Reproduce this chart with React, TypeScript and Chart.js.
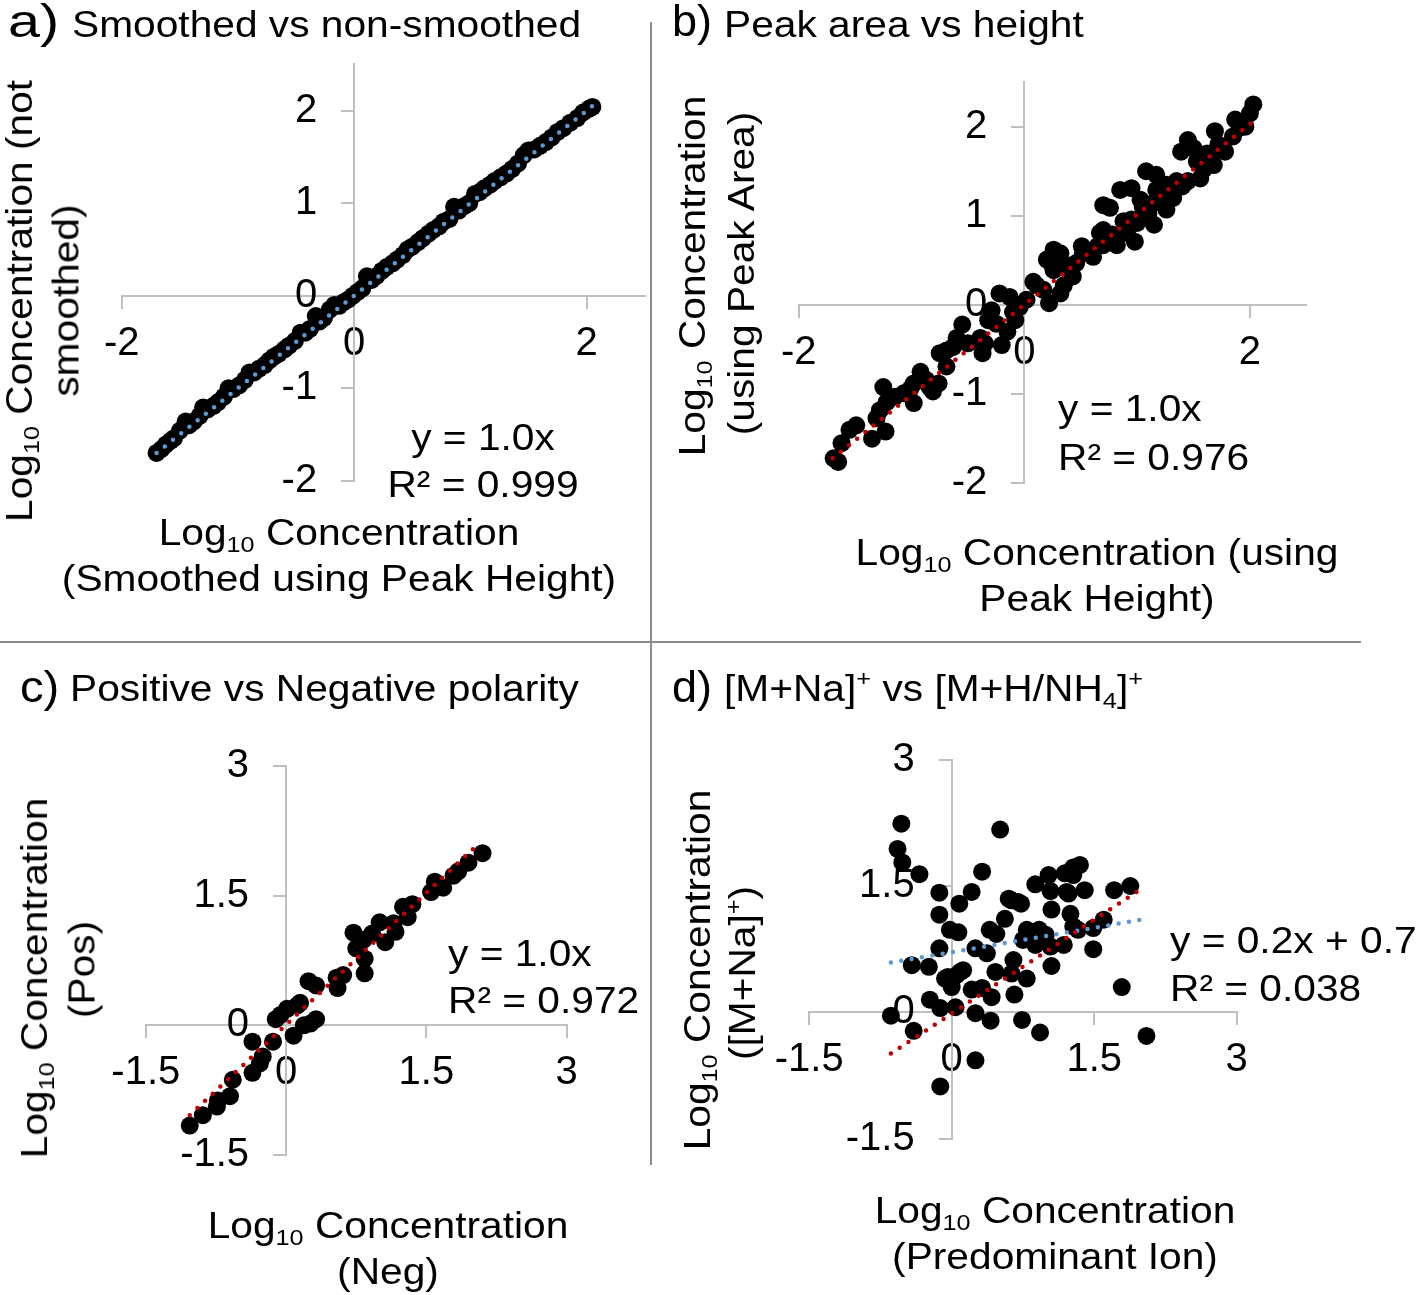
import React, { useEffect, useRef } from "react";
import { Chart, registerables, LinearScale } from "chart.js";

Chart.register(...registerables);

// A linear scale whose labels, when the axis is placed at a data value
// ({x: 0}), are moved off the axis line by tick length + padding.
class CrossLinearScale extends LinearScale {
  _computeLabelItems(chartArea: any) {
    const items = (super._computeLabelItems as any)(chartArea);
    if ((this as any).axis === "y") {
      const opts: any = (this as any).options;
      const shift = (opts.grid.tickLength || 0) + (opts.ticks.padding || 0);
      items.forEach((it: any) => {
        const t = it.options.translation;
        it.options.translation = [t[0] - shift, t[1]];
      });
    }
    return items;
  }
}
(CrossLinearScale as any).id = "crossLinear";
(CrossLinearScale as any).defaults = (LinearScale as any).defaults;
Chart.register(CrossLinearScale as any);

const W = 1418;
const H = 1295;
const FONT = "'Liberation Sans', Arial, Helvetica, sans-serif";
const AXIS_GRAY = "#bfbfbf";
const BLUE = "#5b9bd5";
const RED = "#c00000";

// ---------- Panel a: smoothed vs non-smoothed ----------
const A_X = [-1.70, -1.66, -1.62, -1.58, -1.55, -1.50, -1.45, -1.42, -1.38, -1.33, -1.30, -1.26, -1.21, -1.17, -1.12, -1.08, -1.04, -0.99, -0.94, -0.90, -0.86, -0.82, -0.77, -0.73, -0.69, -0.65, -0.60, -0.56, -0.51, -0.46, -0.42, -0.38, -0.33, -0.30, -0.26, -0.21, -0.17, -0.13, -0.09, -0.05, -0.01, 0.03, 0.07, 0.11, 0.15, 0.19, 0.24, 0.28, 0.33, 0.37, 0.42, 0.46, 0.50, 0.55, 0.59, 0.64, 0.68, 0.73, 0.77, 0.82, 0.86, 0.90, 0.95, 0.99, 1.04, 1.08, 1.12, 1.17, 1.21, 1.26, 1.31, 1.36, 1.41, 1.46, 1.50, 1.55, 1.60, 1.65, 1.70, 1.75, 1.80, 1.86, 1.92, 1.97, 2.02, 2.05];
const A_Y = [-1.70, -1.66, -1.61, -1.57, -1.54, -1.46, -1.36, -1.40, -1.36, -1.30, -1.21, -1.23, -1.19, -1.15, -1.09, -1.00, -1.01, -0.97, -0.91, -0.83, -0.83, -0.79, -0.75, -0.70, -0.66, -0.63, -0.58, -0.54, -0.49, -0.40, -0.40, -0.36, -0.22, -0.28, -0.24, -0.15, -0.10, -0.11, -0.07, -0.04, 0.00, 0.04, 0.08, 0.21, 0.17, 0.21, 0.27, 0.31, 0.35, 0.39, 0.44, 0.50, 0.53, 0.58, 0.62, 0.67, 0.71, 0.75, 0.80, 0.83, 0.96, 0.92, 0.97, 1.00, 1.10, 1.12, 1.16, 1.20, 1.24, 1.28, 1.32, 1.37, 1.43, 1.52, 1.57, 1.58, 1.62, 1.66, 1.71, 1.77, 1.81, 1.87, 1.92, 1.98, 2.02, 2.04];
const A_TREND_X = [-1.70, 2.05];
const A_TREND_Y = [-1.70, 2.05];

// ---------- Panel b: peak area vs height ----------
const B_X = [2.03, 2.00, 1.87, 1.96, 1.69, 1.85, 1.45, 1.39, 1.50, 1.78, 1.65, 1.53, 1.68, 1.56, 1.45, 1.08, 1.17, 1.26, 0.95, 0.85, 1.32, 0.70, 0.76, 1.26, 1.15, 1.00, 0.88, 0.91, 0.98, 0.67, 0.82, 0.65, 0.51, 0.61, 0.46, 0.26, 0.32, 0.20, 0.30, 0.43, 0.35, 0.32, 0.22, 0.08, 0.17, -0.22, -0.13, -0.29, -0.04, -0.08, -0.32, -0.25, -0.55, -0.39, -0.37, -0.20, -0.35, -0.50, -0.63, -0.75, -0.69, -0.76, -0.81, -0.92, -0.98, -1.01, -1.25, -1.15, -1.22, -1.28, -0.98, -1.31, -1.23, -1.35, -1.49, -1.55, -1.62, -1.69, -1.65, -1.07, -0.87, -0.84, -0.60, -0.69, 0.11, 0.26, 0.52, 0.70, 1.05, 1.14, 1.23, 1.35, 1.17, 1.03, 1.05, 0.70, 0.95, 1.59, 1.91, -0.15, -0.10, 0.02, 0.24, 0.40, 0.58, 0.78, 1.10, 1.20, 1.40, 1.62, 1.72];
const B_Y = [2.25, 2.15, 2.08, 2.00, 1.95, 1.89, 1.85, 1.72, 1.76, 1.72, 1.67, 1.61, 1.57, 1.42, 1.39, 1.50, 1.46, 1.35, 1.31, 1.29, 1.20, 1.12, 1.09, 1.07, 0.90, 0.92, 0.94, 0.81, 0.71, 0.81, 0.67, 0.66, 0.66, 0.54, 0.47, 0.62, 0.58, 0.51, 0.43, 0.32, 0.22, 0.13, 0.02, 0.26, 0.17, 0.13, 0.09, -0.06, -0.02, -0.17, -0.17, -0.21, -0.22, -0.37, -0.54, -0.45, -0.43, -0.43, -0.47, -0.54, -0.69, -0.88, -0.97, -0.75, -0.88, -0.94, -0.92, -1.03, -1.09, -1.18, -1.10, -1.27, -1.42, -1.50, -1.35, -1.40, -1.55, -1.72, -1.76, -0.99, -0.84, -0.92, -0.37, -0.51, 0.22, 0.39, 0.58, 0.67, 0.99, 1.14, 1.29, 1.39, 1.29, 1.18, 1.10, 0.84, 0.96, 1.52, 1.99, -0.30, -0.08, 0.06, 0.46, 0.44, 0.60, 0.79, 1.03, 1.16, 1.33, 1.70, 1.80];
const B_TREND_X = [-1.70, 2.02];
const B_TREND_Y = [-1.72, 2.05];

// ---------- Panel c: positive vs negative polarity ----------
const C_X = [-1.03, -0.89, -0.74, -0.73, -0.60, -0.57, -0.36, -0.28, -0.36, -0.14, -0.06, 0.01, 0.12, 0.08, 0.19, 0.26, 0.32, 0.24, 0.32, 0.54, 0.55, 0.61, 0.72, 0.75, 0.84, 0.84, 0.83, 0.92, 1.00, 1.06, 1.15, 1.17, 1.30, 1.25, 1.35, 1.55, 1.59, 1.68, 1.79, 1.84, 1.95, 2.10, 0.15, -0.11, -0.25];
const C_Y = [-1.16, -1.04, -0.94, -0.87, -0.82, -0.63, -0.55, -0.44, -0.19, -0.19, 0.12, 0.19, 0.23, -0.12, 0.00, 0.02, 0.07, 0.51, 0.46, 0.55, 0.43, 0.58, 1.07, 0.89, 0.77, 0.60, 0.99, 1.06, 1.19, 0.96, 1.18, 1.08, 1.25, 1.37, 1.40, 1.54, 1.66, 1.59, 1.73, 1.78, 1.88, 1.99, 0.26, 0.07, -0.36];
const C_TREND_X = [-1.03, 2.03];
const C_TREND_Y = [-1.04, 2.07];

// ---------- Panel d: [M+Na]+ vs [M+H/NH4]+ ----------
const D_X = [-0.53, 0.51, -0.57, -0.52, -0.34, 0.32, -0.13, 0.21, 0.08, -0.13, -0.02, 0.07, 0.56, 0.60, 0.70, 0.73, 0.88, 1.02, 1.04, 1.19, 1.28, 1.35, 1.23, 1.40, 1.71, 1.88, 1.05, 1.25, 0.40, 0.47, 0.25, 0.37, 0.75, 0.92, 0.86, 0.99, 1.04, 1.18, 1.33, 1.49, 1.60, 1.49, 1.05, 0.65, 0.46, 0.63, 0.79, 0.66, 0.42, 0.32, 0.21, 0.09, -0.04, 0.00, -0.24, -0.42, -0.13, -0.23, -0.12, 0.04, 0.25, 0.41, 0.74, 0.93, -0.64, -0.40, 0.25, -0.12, 2.05, 1.79, 0.05, -0.07, 0.12, 0.79, 0.88, 0.63, 1.21, 1.28, 1.28];
const D_Y = [2.24, 2.17, 1.94, 1.78, 1.64, 1.67, 1.42, 1.43, 1.29, 1.16, 0.98, 0.95, 1.11, 1.35, 1.31, 1.29, 1.52, 1.63, 1.44, 1.65, 1.72, 1.75, 1.41, 1.45, 1.45, 1.50, 1.22, 1.17, 0.98, 0.93, 0.76, 0.70, 0.86, 0.98, 0.86, 0.92, 0.78, 0.80, 0.98, 1.00, 1.10, 0.75, 0.55, 0.62, 0.48, 0.46, 0.40, 0.21, 0.18, 0.29, 0.27, 0.48, 0.42, 0.30, 0.54, 0.56, 0.76, 0.15, 0.05, 0.06, -0.01, -0.10, -0.09, -0.24, -0.04, -0.22, -0.57, -0.88, -0.28, 0.30, 0.44, 0.40, 0.50, 0.98, 0.80, 1.33, 1.43, 1.02, 1.63];
const D_RED_TREND_X = [-0.64, 2.00];
const D_RED_TREND_Y = [-0.49, 1.47];
const D_BLUE_TREND_X = [-0.64, 2.05];
const D_BLUE_TREND_Y = [0.59, 1.11];

type Trend = { xs: number[]; ys: number[]; color: string };
type Spec = {
  xs: number[];
  ys: number[];
  trends: Trend[];
  area: { left: number; top: number; right: number; bottom: number };
  xMin: number; xMax: number; xStep: number;
  yMin: number; yMax: number; yStep: number;
};

const pts = (xs: number[], ys: number[]) => xs.map((x, i) => ({ x, y: ys[i] }));

const SPECS: Spec[] = [
  {
    xs: A_X, ys: A_Y,
    trends: [{ xs: A_TREND_X, ys: A_TREND_Y, color: BLUE }],
    area: { left: 121.7, top: 64.4, right: 644.7, bottom: 480.7 },
    xMin: -2, xMax: 2.5, xStep: 2, yMin: -2, yMax: 2.5, yStep: 1,
  },
  {
    xs: B_X, ys: B_Y,
    trends: [{ xs: B_TREND_X, ys: B_TREND_Y, color: RED }],
    area: { left: 798.7, top: 82.1, right: 1306.3, bottom: 483.3 },
    xMin: -2, xMax: 2.5, xStep: 2, yMin: -2, yMax: 2.5, yStep: 1,
  },
  {
    xs: C_X, ys: C_Y,
    trends: [{ xs: C_TREND_X, ys: C_TREND_Y, color: RED }],
    area: { left: 145.8, top: 765.8, right: 566.7, bottom: 1155 },
    xMin: -1.5, xMax: 3, xStep: 1.5, yMin: -1.5, yMax: 3, yStep: 1.5,
  },
  {
    xs: D_X, ys: D_Y,
    trends: [
      { xs: D_RED_TREND_X, ys: D_RED_TREND_Y, color: RED },
      { xs: D_BLUE_TREND_X, ys: D_BLUE_TREND_Y, color: BLUE },
    ],
    area: { left: 809.2, top: 759.7, right: 1236.7, bottom: 1138.6 },
    xMin: -1.5, xMax: 3, xStep: 1.5, yMin: -1.5, yMax: 3, yStep: 1.5,
  },
];

function axis(min: number, max: number, step: number, position: any, padding: number) {
  return {
    type: "crossLinear",
    position,
    min,
    max,
    ticks: {
      stepSize: step,
      includeBounds: false,
      autoSkip: false,
      maxRotation: 0,
      padding,
      color: "#000",
      font: { family: FONT, size: 40 },
    },
    grid: {
      display: true,
      drawOnChartArea: false,
      drawTicks: true,
      tickLength: 12,
      color: AXIS_GRAY,
      lineWidth: 2,
    },
    border: { display: true, color: AXIS_GRAY, width: 2 },
  };
}

function Panel({ spec }: { spec: Spec }) {
  const ref = useRef<HTMLCanvasElement>(null);
  useEffect(() => {
    const a = spec.area;
    const chart = new Chart(ref.current as HTMLCanvasElement, {
      type: "scatter",
      data: {
        datasets: [
          ...spec.trends.map((t) => ({
            type: "line" as const,
            data: pts(t.xs, t.ys),
            borderColor: t.color,
            borderWidth: 4.5,
            borderDash: [0, 10.5],
            borderCapStyle: "round" as const,
            pointRadius: 0,
            fill: false,
            showLine: true,
            order: 0,
            clip: false as any,
          })),
          {
            data: pts(spec.xs, spec.ys),
            pointRadius: 9,
            pointBackgroundColor: "#000",
            pointBorderWidth: 0,
            backgroundColor: "#000",
            borderColor: "#000",
            order: 1,
            clip: false as any,
          },
        ],
      } as any,
      options: {
        animation: false,
        responsive: false,
        maintainAspectRatio: false,
        devicePixelRatio: 1,
        events: [],
        layout: {
          padding: { left: a.left, top: a.top, right: W - a.right, bottom: H - a.bottom },
        },
        plugins: {
          legend: { display: false },
          tooltip: { enabled: false },
          title: { display: false },
        },
        scales: {
          x: axis(spec.xMin, spec.xMax, spec.xStep, { y: 0 }, 12) as any,
          y: axis(spec.yMin, spec.yMax, spec.yStep, { x: 0 }, 25) as any,
        },
      },
    });
    return () => chart.destroy();
  }, [spec]);
  return (
    <canvas
      ref={ref}
      width={W}
      height={H}
      style={{ position: "absolute", left: 0, top: 0, width: W, height: H }}
    />
  );
}

const SX = 1.1;

function T({
  x, y, size = 37, align = "left", rot = false, sx = SX, children,
}: {
  x: number; y: number; size?: number; align?: "left" | "center"; rot?: boolean; sx?: number; children: React.ReactNode;
}) {
  const style: React.CSSProperties = {
    position: "absolute",
    left: x,
    top: y - size / 2,
    fontSize: size,
    lineHeight: `${size}px`,
    fontFamily: FONT,
    whiteSpace: "nowrap",
    color: "#000",
  };
  if (rot) {
    style.transform = `translateX(-50%) rotate(-90deg) scaleX(${sx})`;
    style.transformOrigin = "50% 50%";
  } else if (align === "center") {
    style.transform = `translateX(-50%) scaleX(${sx})`;
    style.transformOrigin = "50% 50%";
  } else {
    style.transform = `scaleX(${sx})`;
    style.transformOrigin = "0% 50%";
  }
  return <div style={style}>{children}</div>;
}

const Sub = ({ children }: { children: React.ReactNode }) => (
  <span style={{ fontSize: "0.62em", position: "relative", top: "0.32em" }}>{children}</span>
);
const Sup = ({ children }: { children: React.ReactNode }) => (
  <span style={{ fontSize: "0.62em", position: "relative", top: "-0.62em" }}>{children}</span>
);
const LogC = () => (
  <>
    Log<Sub>10</Sub> Concentration
  </>
);

export default function App() {
  return (
    <div
      style={{
        position: "absolute",
        left: 0,
        top: 0,
        width: W,
        height: H,
        background: "#fff",
        overflow: "hidden",
      }}
    >
      {SPECS.map((s, i) => (
        <Panel key={i} spec={s} />
      ))}

      {/* dividers */}
      <div style={{ position: "absolute", left: 650, top: 22, width: 2, height: 1143, background: "#8c8c8c" }} />
      <div style={{ position: "absolute", left: 0, top: 641, width: 1361, height: 2, background: "#8c8c8c" }} />

      {/* panel a */}
      <T x={8} y={20.5} size={46} sx={1.25}>a)</T>
      <T x={72} y={24}>Smoothed vs non-smoothed</T>
      <T x={22} y={298} rot>
        <LogC /> (not
      </T>
      <T x={66} y={300} rot>smoothed)</T>
      <T x={339} y={532} align="center">
        <LogC />
      </T>
      <T x={339} y={578} align="center">(Smoothed using Peak Height)</T>
      <T x={483} y={437} align="center">y = 1.0x</T>
      <T x={483} y={484} align="center">R² = 0.999</T>

      {/* panel b */}
      <T x={672} y={20.5} size={45} sx={1}>b)</T>
      <T x={724} y={24}>Peak area vs height</T>
      <T x={695} y={273} rot>
        <LogC />
      </T>
      <T x={741} y={273} rot>(using Peak Area)</T>
      <T x={1097} y={552} align="center">
        <LogC /> (using
      </T>
      <T x={1097} y={598} align="center">Peak Height)</T>
      <T x={1058} y={408}>y = 1.0x</T>
      <T x={1058} y={457}>R² = 0.976</T>

      {/* panel c */}
      <T x={20} y={686.5} size={45} sx={1.05}>c)</T>
      <T x={70} y={688}>Positive vs Negative polarity</T>
      <T x={37} y={975} rot>
        <LogC />
      </T>
      <T x={82} y={969} rot>(Pos)</T>
      <T x={388} y={1225} align="center">
        <LogC />
      </T>
      <T x={388} y={1271} align="center">(Neg)</T>
      <T x={448} y={953}>y = 1.0x</T>
      <T x={448} y={1000}>R² = 0.972</T>

      {/* panel d */}
      <T x={672} y={686.5} size={45} sx={1}>d)</T>
      <T x={724} y={688}>
        [M+Na]<Sup>+</Sup> vs [M+H/NH<Sub>4</Sub>]<Sup>+</Sup>
      </T>
      <T x={700} y={967} rot>
        <LogC />
      </T>
      <T x={745} y={970} rot>
        ([M+Na]<Sup>+</Sup>)
      </T>
      <T x={1055} y={1210} align="center">
        <LogC />
      </T>
      <T x={1055} y={1256} align="center">(Predominant Ion)</T>
      <T x={1170} y={940}>y = 0.2x + 0.7</T>
      <T x={1170} y={988}>R² = 0.038</T>
    </div>
  );
}
